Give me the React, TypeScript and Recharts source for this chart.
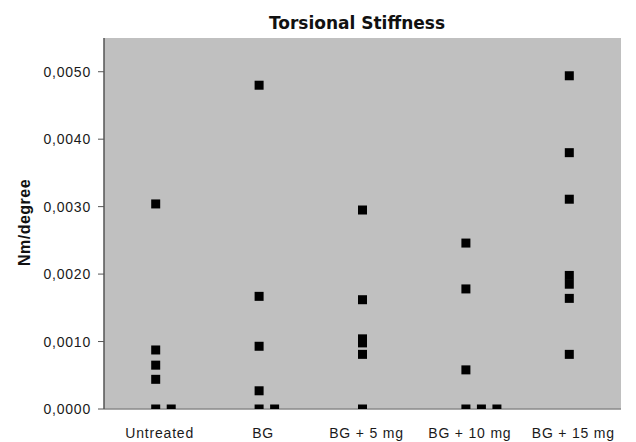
import { ScatterChart, Scatter, XAxis, YAxis, CartesianGrid } from 'recharts'

// Torsional stiffness per treatment group (Nm/degree)
const categories = ['Untreated', 'BG', 'BG + 5 mg', 'BG + 10 mg', 'BG + 15 mg']
const untreated = [0.00304, 0.000875, 0.00065, 0.00044, 0, 0]
const bg = [0.0048, 0.00167, 0.00093, 0.00027, 0, 0]
const bg5mg = [0.00295, 0.00162, 0.00104, 0.00098, 0.00081, 0]
const bg10mg = [0.00246, 0.00178, 0.00058, 0, 0, 0]
const bg15mg = [0.00494, 0.0038, 0.00311, 0.00198, 0.00185, 0.00164, 0.00081]
const groups = [untreated, bg, bg5mg, bg10mg, bg15mg]
const yTicks = [0, 0.001, 0.002, 0.003, 0.004, 0.005]

// equal values in a group sit side by side, this far apart (category units)
const TIE_STEP = 0.15

const points = groups.flatMap((vals, i) =>
  vals.map((v, j) => {
    const ties = vals.slice(0, j).filter((p) => p === v).length
    return { x: i + 1 + ties * TIE_STEP, y: v }
  }),
)

const FONT = '"Liberation Sans", Arial, sans-serif'
const tickStyle = { fontSize: 14, fill: '#1a1a1a', letterSpacing: 0.8, fontFamily: FONT }

const Square = (props: any) => (
  <rect x={props.cx - 4.5} y={props.cy - 4.5} width={9} height={9} fill="#000" />
)

export default function App() {
  return (
    <div style={{ width: 628, height: 434, fontFamily: FONT }}>
      <ScatterChart width={628} height={434} margin={{ top: 30, right: 15, bottom: 0, left: 0 }}>
        <CartesianGrid fill="#c0c0c0" horizontal={false} vertical={false} />
        <XAxis
          type="number"
          dataKey="x"
          domain={[0.5, 5.5]}
          ticks={[1, 2, 3, 4, 5]}
          tickFormatter={(v) => categories[v - 1] ?? ''}
          height={33}
          tickLine={false}
          tickSize={0}
          tickMargin={19}
          axisLine={{ stroke: '#8a8a8a', strokeWidth: 1.5 }}
          tick={{ ...tickStyle, dx: 4 }}
          allowDataOverflow
        />
        <XAxis
          xAxisId="top"
          orientation="top"
          type="number"
          domain={[0.5, 5.5]}
          height={0}
          tick={false}
          tickLine={false}
          axisLine={{ stroke: '#9a9a9a', strokeWidth: 1.5 }}
        />
        <YAxis
          type="number"
          dataKey="y"
          domain={[0, 0.0055]}
          ticks={yTicks}
          tickFormatter={(v) => v.toFixed(4).replace('.', ',')}
          width={96}
          tickSize={6}
          tickMargin={7}
          tickLine={{ stroke: '#555' }}
          axisLine={{ stroke: '#555', strokeWidth: 1.5 }}
          tick={tickStyle}
          allowDataOverflow
        />
        <YAxis
          yAxisId="right"
          orientation="right"
          type="number"
          domain={[0, 0.0055]}
          width={0}
          tick={false}
          tickLine={false}
          axisLine={{ stroke: '#aaaaaa', strokeWidth: 1.5 }}
        />
        <Scatter data={points} shape={<Square />} isAnimationActive={false} />
        <text
          x={349}
          y={21}
          textAnchor="middle"
          fontFamily='"DejaVu Sans", sans-serif'
          fontWeight="bold"
          fontSize={17}
          fill="#111"
        >
          Torsional Stiffness
        </text>
        <text
          x={16.5}
          y={214.5}
          transform="rotate(-90, 16.5, 214.5)"
          textAnchor="middle"
          dominantBaseline="central"
          fontFamily={FONT}
          fontWeight="bold"
          fontSize={16}
          letterSpacing={0.5}
          fill="#111"
        >
          Nm/degree
        </text>
      </ScatterChart>
    </div>
  )
}
